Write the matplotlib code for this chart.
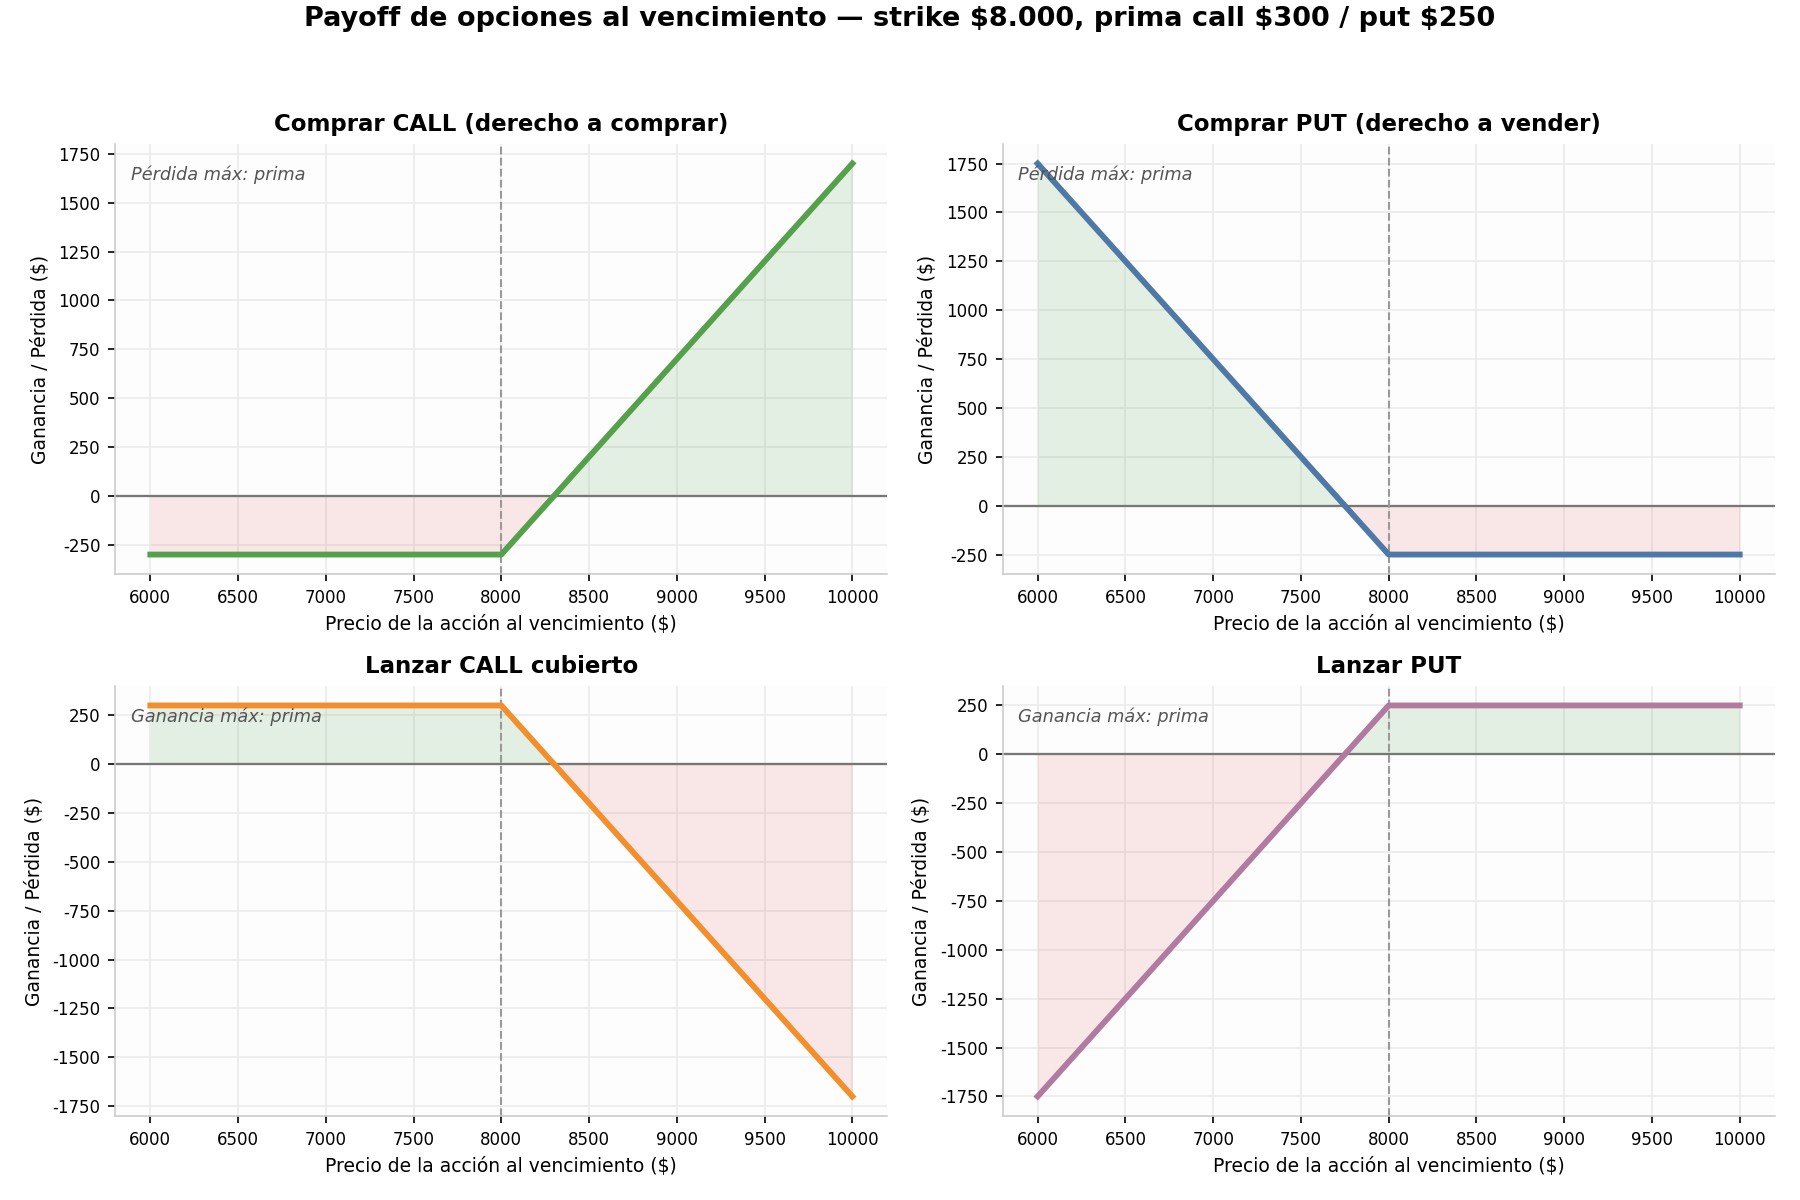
import numpy as np
import matplotlib.pyplot as plt

# datos de los payoffs (precio al vencimiento -> ganancia/pérdida)
precios = [6000, 8000, 10000]
strike = 8000
comprar_call = [-300, -300, 1700]
comprar_put = [1750, -250, -250]
lanzar_call = [300, 300, -1700]
lanzar_put = [-1750, 250, 250]

titulos = ['Comprar CALL (derecho a comprar)', 'Comprar PUT (derecho a vender)',
           'Lanzar CALL cubierto', 'Lanzar PUT']
notas = ['Pérdida máx: prima', 'Pérdida máx: prima',
         'Ganancia máx: prima', 'Ganancia máx: prima']
colores = ['#55a04a', '#4e79a7', '#f28e2b', '#b07aa1']
series = [comprar_call, comprar_put, lanzar_call, lanzar_put]

plt.rcParams['font.family'] = ['DejaVu Sans']
plt.rcParams['axes.unicode_minus'] = False

fig, axes = plt.subplots(2, 2, figsize=(12, 8), dpi=150)
fig.subplots_adjust(left=0.064, right=0.986, top=0.88, bottom=0.07,
                    hspace=0.26, wspace=0.149)

for ax, y, titulo, nota, c in zip(axes.flat, series, titulos, notas, colores):
    x = np.array(precios, dtype=float)
    y = np.array(y, dtype=float)
    ax.set_facecolor('#fdfdfd')
    ax.grid(True, color='#ebebeb', linewidth=0.8)
    ax.set_axisbelow(True)
    ax.fill_between(x, y, 0, where=y >= 0, interpolate=True,
                    color='#4a9a3f', alpha=0.14, linewidth=0)
    ax.fill_between(x, y, 0, where=y <= 0, interpolate=True,
                    color='#d9534f', alpha=0.13, linewidth=0)
    ax.axhline(0, color='#777777', linewidth=1.1)
    ax.axvline(strike, color='#999999', linestyle='--', linewidth=1)
    ax.plot(x, y, color=c, linewidth=2.8)
    ax.set_title(titulo, fontsize=11, fontweight='bold')
    ax.set_xlabel('Precio de la acción al vencimiento ($)', fontsize=9)
    ax.set_ylabel('Ganancia / Pérdida ($)', fontsize=9)
    ax.text(0.02, 0.95, nota, transform=ax.transAxes, fontsize=8.5,
            fontstyle='italic', color='#555555', va='top')
    ax.tick_params(labelsize=8)
    for s in ['top', 'right']:
        ax.spines[s].set_visible(False)
    for s in ['left', 'bottom']:
        ax.spines[s].set_color('#cccccc')

fig.suptitle('Payoff de opciones al vencimiento — strike $8.000, prima call $300 / put $250',
             fontsize=13, fontweight='bold', y=0.995)

plt.savefig('out.png')
